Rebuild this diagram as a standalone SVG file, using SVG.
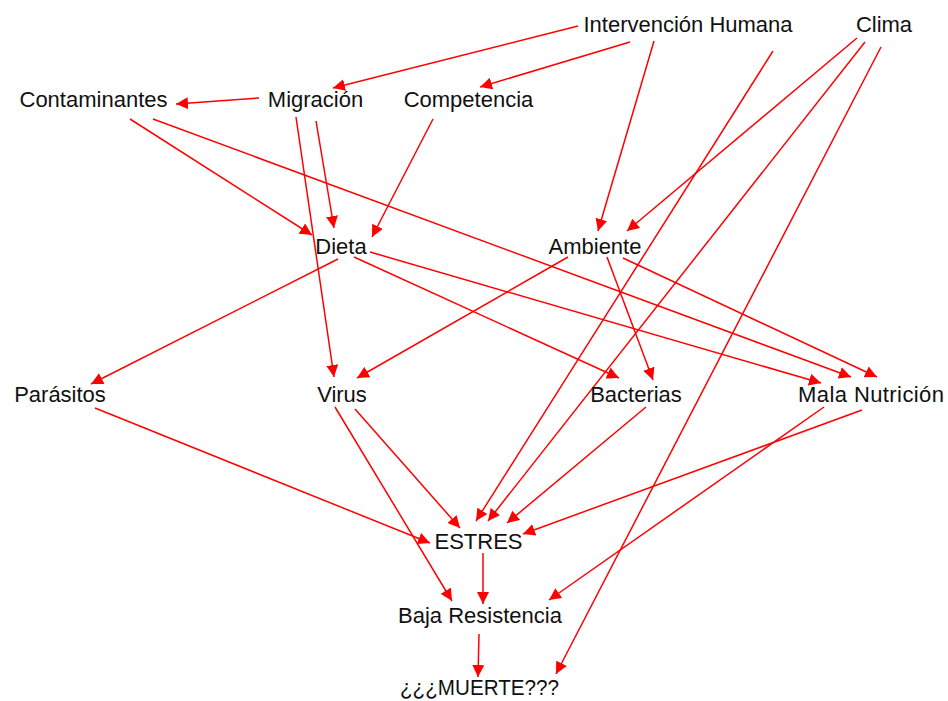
<svg xmlns="http://www.w3.org/2000/svg" width="948" height="701" viewBox="0 0 948 701">
<style>
.lbl{font-family:"Liberation Sans",Arial,sans-serif;font-size:22px;fill:#111;text-anchor:middle}
.e{stroke:#ff0000;stroke-width:1.5;fill:none;marker-end:url(#ah)}
</style>
<defs>
<marker id="ah" markerUnits="userSpaceOnUse" markerWidth="13" markerHeight="12" refX="12" refY="6" orient="auto">
<path d="M0,0 L12,6 L0,12 Z" fill="#ff0000"/>
</marker>
</defs>
<rect width="948" height="701" fill="#fff"/>
<g id="connectors">
<line class="e" x1="578" y1="26" x2="333" y2="88"/>
<line class="e" x1="630" y1="42" x2="480" y2="87"/>
<line class="e" x1="654" y1="41" x2="598" y2="231"/>
<line class="e" x1="773" y1="51" x2="476" y2="521"/>
<line class="e" x1="857" y1="38" x2="627" y2="231"/>
<line class="e" x1="865" y1="42" x2="488" y2="521"/>
<line class="e" x1="881" y1="47" x2="556" y2="674"/>
<line class="e" x1="259" y1="98" x2="176" y2="104"/>
<line class="e" x1="316" y1="121" x2="334" y2="228"/>
<line class="e" x1="296" y1="117" x2="334" y2="377"/>
<line class="e" x1="130" y1="119" x2="312" y2="235"/>
<line class="e" x1="153" y1="119" x2="851" y2="377"/>
<line class="e" x1="433" y1="119" x2="372" y2="237"/>
<line class="e" x1="338" y1="259" x2="91" y2="384"/>
<line class="e" x1="354" y1="257" x2="619" y2="378"/>
<line class="e" x1="370" y1="252" x2="821" y2="383"/>
<line class="e" x1="568" y1="257" x2="357" y2="378"/>
<line class="e" x1="607" y1="257" x2="653" y2="380"/>
<line class="e" x1="623" y1="258" x2="877" y2="377"/>
<line class="e" x1="95" y1="408" x2="430" y2="543"/>
<line class="e" x1="355" y1="409" x2="460" y2="528"/>
<line class="e" x1="335" y1="407" x2="452" y2="601"/>
<line class="e" x1="646" y1="407" x2="507" y2="523"/>
<line class="e" x1="862" y1="410" x2="523" y2="534"/>
<line class="e" x1="824" y1="407" x2="549" y2="600"/>
<line class="e" x1="483" y1="553" x2="483" y2="604"/>
<line class="e" x1="479" y1="634" x2="478" y2="677"/>
</g>
<g id="intervencion"><text class="lbl" x="688" y="32">Intervención Humana</text></g>
<g id="clima"><text class="lbl" x="884" y="32">Clima</text></g>
<g id="contaminantes"><text class="lbl" x="93.5" y="107">Contaminantes</text></g>
<g id="migracion"><text class="lbl" x="315.5" y="107">Migración</text></g>
<g id="competencia"><text class="lbl" x="468.5" y="107">Competencia</text></g>
<g id="dieta"><text class="lbl" x="341" y="254">Dieta</text></g>
<g id="ambiente"><text class="lbl" x="595" y="254">Ambiente</text></g>
<g id="parasitos"><text class="lbl" x="60" y="402">Parásitos</text></g>
<g id="virus"><text class="lbl" x="342" y="402">Virus</text></g>
<g id="bacterias"><text class="lbl" x="636" y="402">Bacterias</text></g>
<g id="malanutricion"><text class="lbl" x="871" y="402" textLength="146" lengthAdjust="spacing">Mala Nutrición</text></g>
<g id="estres"><text class="lbl" x="478.5" y="549">ESTRES</text></g>
<g id="bajaresistencia"><text class="lbl" x="480" y="623">Baja Resistencia</text></g>
<g id="muerte"><text class="lbl" x="479.5" y="695" textLength="159" lengthAdjust="spacingAndGlyphs">¿¿¿MUERTE???</text></g>
</svg>
